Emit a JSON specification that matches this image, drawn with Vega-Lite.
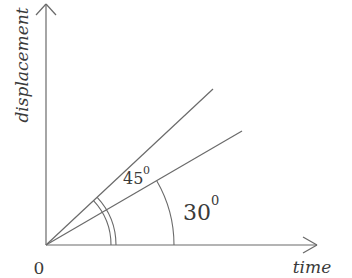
{
  "$schema": "https://vega.github.io/schema/vega-lite/v6.json",
  "width": 352,
  "height": 278,
  "autosize": {"type": "fit", "contains": "padding"},
  "padding": 0,
  "background": "white",
  "config": {"view": {"stroke": null}},
  "encoding": {
    "x": {"field": "x", "type": "quantitative", "scale": {"domain": [-46, 306], "nice": false, "zero": false}, "axis": null},
    "y": {"field": "y", "type": "quantitative", "scale": {"domain": [-33, 245], "nice": false, "zero": false}, "axis": null}
  },
  "layer": [
    {
      "data": {"values": [
        {"part": "y axis", "x": 0, "y": 0, "x2": 0, "y2": 241},
        {"part": "y arrow", "x": -10, "y": 230, "x2": 0, "y2": 241},
        {"part": "y arrow", "x": 10, "y": 230, "x2": 0, "y2": 241},
        {"part": "x axis", "x": 0, "y": 0, "x2": 271, "y2": 0},
        {"part": "x arrow", "x": 257, "y": 8, "x2": 271, "y2": 0},
        {"part": "x arrow", "x": 257, "y": -8, "x2": 271, "y2": 0},
        {"part": "line 45", "x": 0, "y": 0, "x2": 167, "y2": 156},
        {"part": "line 30", "x": 0, "y": 0, "x2": 196, "y2": 114}
      ]},
      "mark": {"type": "rule", "color": "#6a6a6a", "strokeWidth": 1.2},
      "encoding": {"x2": {"field": "x2"}, "y2": {"field": "y2"}}
    },
    {
      "data": {"values": [
        {"x": 0, "y": 0, "r": 65, "a1": 0, "a2": 43},
        {"x": 0, "y": 0, "r": 70, "a1": 0, "a2": 43},
        {"x": 0, "y": 0, "r": 128, "a1": 0, "a2": 30}
      ]},
      "mark": {"type": "arc", "fillOpacity": 0, "stroke": "#6a6a6a", "strokeWidth": 1.1},
      "encoding": {
        "theta": {"field": "a1", "type": "quantitative", "stack": null, "scale": {"domain": [0, 90], "range": [1.5708, 0]}},
        "theta2": {"field": "a2"},
        "radius": {"field": "r", "type": "quantitative", "scale": {"type": "linear", "domain": [0, 100], "range": [0, 100], "zero": true}},
        "radius2": {"field": "r"}
      }
    },
    {
      "data": {"values": [{"x": -23, "y": 180, "label": "displacement"}]},
      "mark": {"type": "text", "angle": 270, "font": "DejaVu Serif", "fontStyle": "italic", "fontSize": 17, "align": "center", "baseline": "middle", "color": "#3a3a3a"},
      "encoding": {"text": {"field": "label"}}
    },
    {
      "data": {"values": [{"x": 266, "y": -28, "label": "time"}]},
      "mark": {"type": "text", "font": "DejaVu Serif", "fontStyle": "italic", "fontSize": 17, "align": "center", "baseline": "alphabetic", "color": "#3a3a3a"},
      "encoding": {"text": {"field": "label"}}
    },
    {
      "data": {"values": [{"x": -7, "y": -24, "label": "0"}]},
      "mark": {"type": "text", "font": "DejaVu Serif", "fontSize": 17, "align": "center", "baseline": "middle", "color": "#3a3a3a"},
      "encoding": {"text": {"field": "label"}}
    },
    {
      "data": {"values": [{"x": 77, "y": 61, "label": "45"}]},
      "mark": {"type": "text", "font": "DejaVu Serif", "fontSize": 16, "align": "left", "baseline": "alphabetic", "color": "#3a3a3a"},
      "encoding": {"text": {"field": "label"}}
    },
    {
      "data": {"values": [{"x": 97, "y": 71, "label": "0"}]},
      "mark": {"type": "text", "font": "DejaVu Serif", "fontSize": 11, "align": "left", "baseline": "alphabetic", "color": "#3a3a3a"},
      "encoding": {"text": {"field": "label"}}
    },
    {
      "data": {"values": [{"x": 137, "y": 25, "label": "30"}]},
      "mark": {"type": "text", "font": "DejaVu Serif", "fontSize": 22, "align": "left", "baseline": "alphabetic", "color": "#3a3a3a"},
      "encoding": {"text": {"field": "label"}}
    },
    {
      "data": {"values": [{"x": 165, "y": 40, "label": "0"}]},
      "mark": {"type": "text", "font": "DejaVu Serif", "fontSize": 13, "align": "left", "baseline": "alphabetic", "color": "#3a3a3a"},
      "encoding": {"text": {"field": "label"}}
    }
  ]
}
